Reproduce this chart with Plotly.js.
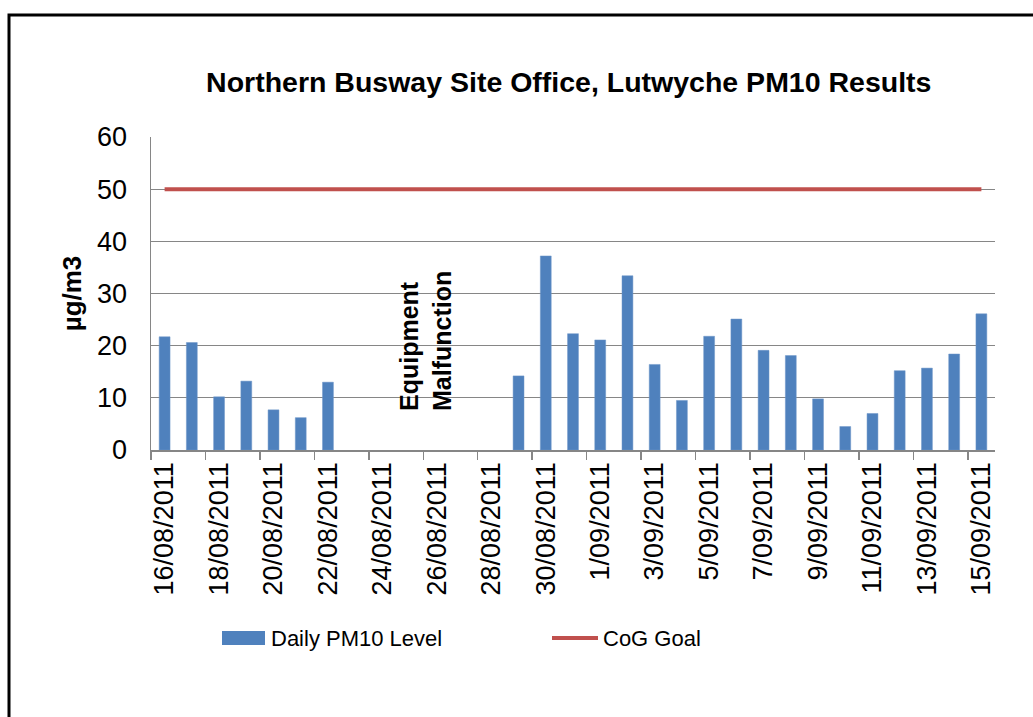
<!DOCTYPE html>
<html>
<head>
<meta charset="utf-8">
<script src="https://cdn.plot.ly/plotly-3.0.1.min.js"></script>
<style>
html,body{margin:0;padding:0;background:#fff;}
#chart{width:1033px;height:717px;}
</style>
</head>
<body>
<div id="chart"></div>
<script>
const dates = ["16/08/2011","17/08/2011","18/08/2011","19/08/2011","20/08/2011","21/08/2011","22/08/2011",
  "23/08/2011","24/08/2011","25/08/2011","26/08/2011","27/08/2011","28/08/2011",
  "29/08/2011","30/08/2011","31/08/2011","1/09/2011","2/09/2011","3/09/2011","4/09/2011",
  "5/09/2011","6/09/2011","7/09/2011","8/09/2011","9/09/2011","10/09/2011","11/09/2011",
  "12/09/2011","13/09/2011","14/09/2011","15/09/2011"];
const dailyPM10 = [21.7, 20.6, 10.2, 13.2, 7.7, 6.2, 13.0,
  null, null, null, null, null, null,
  14.2, 37.2, 22.3, 21.1, 33.4, 16.4, 9.5,
  21.8, 25.1, 19.1, 18.1, 9.8, 4.5, 7.0,
  15.2, 15.7, 18.4, 26.1];
const cogGoal = [50,50,50,50,50,50,50,50,50,50,50,50,50,50,50,50,50,50,50,50,50,50,50,50,50,50,50,50,50,50,50];
const seriesNames = ["Daily PM10 Level", "CoG Goal"];
const titleText = "Northern Busway Site Office, Lutwyche PM10 Results";
const yTitle = "µg/m3";
const noteText = "Equipment<br>Malfunction";

const BLUE = "#4F81BD", RED = "#C0504D", GRID = "#868686";
const FONT = "Liberation Sans, Arial, sans-serif";

const L = 151, R = 38, T = 137, B = 267, W = 1033, H = 717;
const pw = W - L - R, ph = H - T - B;
const px = x => (x - L) / pw;
const py = y => (H - B - y) / ph;

const traces = [
  {type: "bar", x: dates, y: dailyPM10, name: seriesNames[0],
   marker: {color: BLUE, line: {color: "#6E97C8", width: 0.5}}, showlegend: false},
  {type: "scatter", mode: "lines", x: dates, y: cogGoal, name: seriesNames[1],
   line: {color: RED, width: 4}, showlegend: false}
];

const layout = {
  width: W, height: H,
  margin: {l: L, r: R, t: T, b: B},
  paper_bgcolor: "#fff", plot_bgcolor: "#fff",
  font: {family: FONT, color: "#000", size: 24},
  bargap: 0.6,
  title: {text: titleText, font: {family: FONT, size: 28.5, weight: "bold", color: "#000"},
          x: 0.495, xref: "paper", xanchor: "center", y: 1 - 82 / H, yanchor: "middle"},
  xaxis: {type: "category", tickmode: "linear", tick0: 0, dtick: 2, tickson: "boundaries",
          ticks: "outside", ticklen: 8, tickcolor: GRID, tickwidth: 1.5,
          showline: true, linecolor: GRID, linewidth: 1.5, showgrid: false,
          tickangle: -90, tickfont: {size: 27, family: FONT, color: "#000"},
          automargin: false, range: [-0.5, 30.5]},
  yaxis: {range: [0, 60], dtick: 10, showgrid: true, gridcolor: GRID, gridwidth: 1.2,
          showline: true, linecolor: GRID, linewidth: 1.5, zeroline: false,
          ticks: "", ticklabelstandoff: 17,
          tickfont: {size: 27, family: FONT, color: "#000"},
          title: {text: yTitle, font: {size: 26, weight: "bold", family: FONT, color: "#000"}, standoff: 8},
          automargin: false},
  annotations: [
    {text: noteText, xref: "paper", x: px(425), yref: "paper", y: py(341),
     xanchor: "center", yanchor: "middle",
     textangle: -90, showarrow: false, align: "left",
     font: {size: 25, weight: "bold", family: FONT, color: "#000"}},
    {text: seriesNames[0], xref: "paper", x: px(269), yref: "paper", y: py(638),
     xanchor: "left", yanchor: "middle", showarrow: false, font: {size: 22, family: FONT, color: "#000"}},
    {text: seriesNames[1], xref: "paper", x: px(601), yref: "paper", y: py(638),
     xanchor: "left", yanchor: "middle", showarrow: false, font: {size: 22, family: FONT, color: "#000"}}
  ],
  shapes: [
    {type: "rect", xref: "paper", yref: "paper", x0: px(222), x1: px(265), y0: py(631), y1: py(645),
     fillcolor: BLUE, line: {width: 0}},
    {type: "line", xref: "paper", yref: "paper", x0: px(552), x1: px(598), y0: py(638), y1: py(638),
     line: {color: RED, width: 4}},
    {type: "rect", xref: "paper", yref: "paper", x0: px(9), x1: px(1100), y0: py(15), y1: py(800),
     line: {color: "#000", width: 3}, fillcolor: "rgba(0,0,0,0)", layer: "above"}
  ]
};

Plotly.newPlot("chart", traces, layout, {staticPlot: true, displayModeBar: false});
</script>
</body>
</html>
